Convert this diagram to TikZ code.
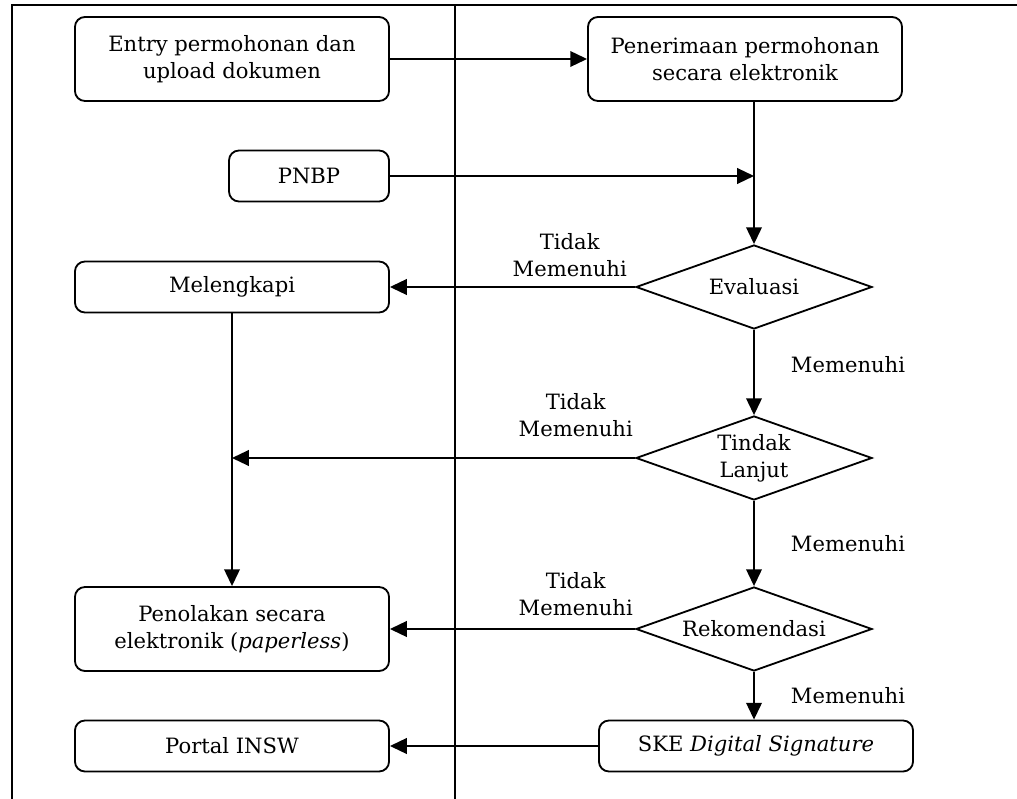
\documentclass[tikz,border=0pt]{standalone}
\usepackage{fontspec}
\setmainfont{DejaVu Serif}
\usetikzlibrary{arrows.meta, positioning, shapes.geometric}

\begin{document}
\begin{tikzpicture}[
  x=0.025cm, y=-0.025cm,
  font=\fontsize{15}{19}\selectfont,
  box/.style={draw, rounded corners=0.25cm, align=center, line width=1.3pt, minimum width=7.85cm, minimum height=1.275cm, inner sep=0pt},
  tallbox/.style={box, minimum height=2.1cm},
  decision/.style={draw, diamond, aspect=2.8, align=center, line width=1.3pt, inner sep=0pt, minimum width=5.9cm, minimum height=2.1cm},
  lbl/.style={align=center, inner sep=0pt},
  lane/.style={line width=1.3pt},
  arrow/.style={-{Triangle[length=4.2mm, width=3.9mm]}, line width=1.3pt},
]
  \useasboundingbox (0,0) rectangle (1017,799);
  \draw[lane] (12,799) -- (12,5) -- (1017,5);
  \draw[lane] (455,5) -- (455,799);

  \node[tallbox] (entry) at (232,59) {Entry permohonan dan\\upload dokumen};
  \node[tallbox] (terima) at (745,59) {Penerimaan permohonan\\secara elektronik};
  \node[box, minimum width=4cm] (pnbp) at (309,176) {PNBP};
  \node[decision] (evaluasi) at (754,287) {Evaluasi};
  \node[box] (lengkap) at (232,287) {Melengkapi};
  \node[decision] (lanjut) at (754,458) {Tindak\\Lanjut};
  \node[decision] (rekom) at (754,629) {Rekomendasi};
  \node[tallbox] (tolak) at (232,629) {Penolakan secara\\elektronik (\textit{paperless})};
  \node[box] (ske) at (756,746) {SKE \textit{Digital Signature}};
  \node[box] (portal) at (232,746) {Portal INSW};

  \node[lbl, above left=2.5mm and 2mm of evaluasi.west] (tidak1) {Tidak\\Memenuhi};
  \node[lbl, above left=5.2mm and 0.5mm of lanjut.west] (tidak2) {Tidak\\Memenuhi};
  \node[lbl, above left=3.2mm and 0.5mm of rekom.west] (tidak3) {Tidak\\Memenuhi};

  \draw[arrow] (entry) -- (terima);
  \draw[arrow] (evaluasi.north |- terima.south) -- (evaluasi.north);
  \draw[arrow] (pnbp) -- (pnbp -| evaluasi);
  \draw[arrow] (evaluasi) -- (lengkap);
  \draw[arrow] (evaluasi) -- node[lbl, right=9mm, yshift=2mm] {Memenuhi} (lanjut);
  \draw[arrow] (lanjut) -- (lanjut -| lengkap);
  \draw[arrow] (lengkap) -- (tolak);
  \draw[arrow] (lanjut) -- node[lbl, right=9mm] {Memenuhi} (rekom);
  \draw[arrow] (rekom) -- (tolak);
  \draw[arrow] (rekom.south) -- node[lbl, right=9mm] {Memenuhi} (rekom.south |- ske.north);
  \draw[arrow] (ske) -- (portal);
\end{tikzpicture}
\end{document}
